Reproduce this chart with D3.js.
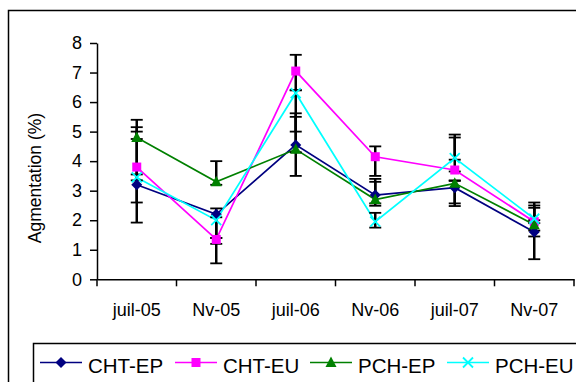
<!DOCTYPE html>
<html>
<head>
<meta charset="utf-8">
<script src="https://cdn.jsdelivr.net/npm/d3@7"></script>
<style>
  body { margin: 0; background: #fff; }
  svg { display: block; font-family: "Liberation Sans", Arial, sans-serif; }
</style>
</head>
<body>
<svg id="chart" width="576" height="382"></svg>
<script>
// categories and series
var categories = ['juil-05', 'Nv-05', 'juil-06', 'Nv-06', 'juil-07', 'Nv-07'];
var yTicks = [0, 1, 2, 3, 4, 5, 6, 7, 8];

var chtEP = [3.2, 2.2, 4.55, 2.85, 3.1, 1.6];
var chtEU = [3.8, 1.35, 7.05, 4.15, 3.7, 1.95];
var pchEP = [4.8, 3.3, 4.4, 2.7, 3.25, 1.85];
var pchEU = [3.45, 2.0, 6.3, 1.95, 4.1, 2.05];

// error bars (plus / minus), per series
var chtEPUp = [1.8, 0.2, 1.07, 0.55, 0.23, 0.05];
var chtEPDown = [1.28, 1.66, 1.05, 0.36, 0.62, 0.92];
var chtEUUp = [1.35, 0.05, 0.55, 0.35, 1.1, 0.55];
var chtEUDown = [1.2, 0.15, 0.65, 0.65, 0.05, 0.05];
var pchEPUp = [0.6, 0.7, 1.1, 0.6, 0.1, 0.57];
var pchEPDown = [0.05, 0.1, 0.1, 0.13, 0.68, 0.4];
var pchEUUp = [0.1, 0.1, 0.1, 0.3, 0.8, 0.55];
var pchEUDown = [0.1, 0.6, 1.3, 0.2, 0.05, 0.05];

var series = [
    {name: 'CHT-EP', values: chtEP, up: chtEPUp, down: chtEPDown, color: '#000080', marker: 'diamond'},
    {name: 'CHT-EU', values: chtEU, up: chtEUUp, down: chtEUDown, color: '#FF00FF', marker: 'square'},
    {name: 'PCH-EP', values: pchEP, up: pchEPUp, down: pchEPDown, color: '#008000', marker: 'triangle'},
    {name: 'PCH-EU', values: pchEU, up: pchEUUp, down: pchEUDown, color: '#00FFFF', marker: 'cross'}
];

var svg = d3.select('#chart');

// outer frame (cut off at right/bottom like the original)
svg.append('rect')
    .attr('x', 8.5).attr('y', 10.5)
    .attr('width', 580).attr('height', 380)
    .attr('fill', 'none').attr('stroke', '#000').attr('stroke-width', 1.5);

var x = d3.scaleBand().domain(categories).range([97, 574]);
var y = d3.scaleLinear().domain([0, 8]).range([279.3, 43]);
var cx = function (i) { return x(categories[i]) + x.bandwidth() / 2; };

// y axis
var yAxis = svg.append('g')
    .attr('transform', 'translate(97,0)')
    .call(d3.axisLeft(y).tickValues(yTicks).tickSize(7).tickPadding(8).tickSizeOuter(0));
yAxis.select('.domain').attr('stroke-width', 1.5);
yAxis.selectAll('.tick line').attr('stroke-width', 1.5);
yAxis.selectAll('.tick text').style('font-size', '18px').attr('fill', '#000');

// x axis: line + ticks on the category borders, labels at centres
var xAxis = svg.append('g')
    .attr('transform', 'translate(0,279.3)')
    .call(d3.axisBottom(x).tickSize(0).tickPadding(24).tickSizeOuter(0));
xAxis.select('.domain').attr('stroke-width', 1.5);
xAxis.selectAll('.tick text').style('font-size', '18px').attr('fill', '#000');
xAxis.selectAll('.border')
    .data(d3.range(categories.length + 1))
    .enter().append('line')
    .attr('x1', function (i) { return 97 + i * x.step(); })
    .attr('x2', function (i) { return 97 + i * x.step(); })
    .attr('y1', 0).attr('y2', 7)
    .attr('stroke', '#000').attr('stroke-width', 1.5);

svg.append('text')
    .attr('transform', 'translate(41,178) rotate(-90)')
    .attr('text-anchor', 'middle')
    .style('font-size', '17.5px')
    .text('Agmentation (%)');

/**
 * Draws one marker shape centred at 0,0
 */
var drawMarker = function (g, type, color) {
    if (type === 'diamond') {
        g.append('path').attr('d', 'M0,-5.5L5.5,0L0,5.5L-5.5,0Z').attr('fill', color);
    } else if (type === 'square') {
        g.append('rect').attr('x', -4.5).attr('y', -4.5).attr('width', 9).attr('height', 9).attr('fill', color);
    } else if (type === 'triangle') {
        g.append('path').attr('d', 'M0,-6L5.5,4.5L-5.5,4.5Z').attr('fill', color);
    } else {
        g.append('path').attr('d', 'M-5,-5L5,5M-5,5L5,-5')
            .attr('stroke', color).attr('stroke-width', 1.8).attr('fill', 'none');
    }
};

var line = d3.line()
    .x(function (d, i) { return cx(i); })
    .y(function (d) { return y(d); });

// lines
svg.selectAll('.serie')
    .data(series)
    .enter().append('path')
    .attr('d', function (s) { return line(s.values); })
    .attr('fill', 'none')
    .attr('stroke', function (s) { return s.color; })
    .attr('stroke-width', 1.7);

// error bars
series.forEach(function (s) {
    var g = svg.append('g');
    s.values.forEach(function (v, i) {
        var top = y(v + s.up[i]), bot = y(v - s.down[i]), px = cx(i);
        g.append('line').attr('x1', px).attr('x2', px).attr('y1', top).attr('y2', bot)
            .attr('stroke', '#000').attr('stroke-width', 2.5);
        [top, bot].forEach(function (yy) {
            g.append('line').attr('x1', px - 6).attr('x2', px + 6).attr('y1', yy).attr('y2', yy)
                .attr('stroke', '#000').attr('stroke-width', 1.8);
        });
    });
});

// markers
series.forEach(function (s) {
    s.values.forEach(function (v, i) {
        var g = svg.append('g').attr('transform', 'translate(' + cx(i) + ',' + y(v) + ')');
        drawMarker(g, s.marker, s.color);
    });
});

// legend
svg.append('rect')
    .attr('x', 33.5).attr('y', 343.5)
    .attr('width', 560).attr('height', 50)
    .attr('fill', '#fff').attr('stroke', '#000').attr('stroke-width', 1.5);

var legendX = [40, 175, 310, 447];
var item = svg.selectAll('.legend')
    .data(series)
    .enter().append('g')
    .attr('transform', function (s, i) { return 'translate(' + legendX[i] + ',362.5)'; });

item.append('line')
    .attr('x1', 0).attr('x2', 42)
    .attr('stroke', function (s) { return s.color; })
    .attr('stroke-width', 1.7);
item.each(function (s) {
    var g = d3.select(this).append('g').attr('transform', 'translate(21,0)');
    drawMarker(g, s.marker, s.color);
});
item.append('text')
    .attr('x', 48).attr('y', 10)
    .style('font-size', '20.5px')
    .text(function (s) { return s.name; });
</script>
</body>
</html>
